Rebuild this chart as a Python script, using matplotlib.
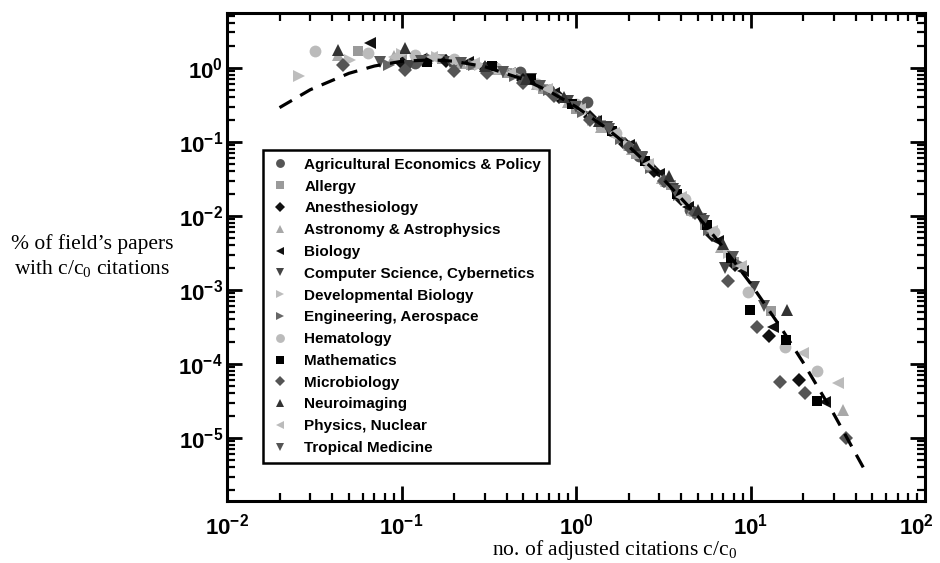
import matplotlib
matplotlib.use("Agg")
import matplotlib.pyplot as plt
import matplotlib.transforms as mtransforms
from matplotlib.ticker import LogLocator, FixedLocator, FixedFormatter, NullFormatter

plt.rcParams['mathtext.fontset'] = 'custom'
plt.rcParams['mathtext.rm'] = 'Liberation Serif'
plt.rcParams['mathtext.it'] = 'Liberation Serif:italic'
plt.rcParams['mathtext.bf'] = 'Liberation Sans:bold'

# ---- data ----
fit_x = [0.02, 0.03, 0.05, 0.07, 0.1, 0.15, 0.2, 0.3, 0.5, 0.7, 1.0, 1.5, 2.0, 3.0,
         5.0, 7.0, 10.0, 15.0, 20.0, 30.0, 45.0]
fit_y = [0.29, 0.506, 0.843, 1.058, 1.224, 1.282, 1.228, 1.036, 0.699, 0.484, 0.298,
         0.152, 0.0874, 0.036, 0.00982, 0.00374, 0.001224, 3.05e-4, 1.054e-4, 2.115e-5, 3.74e-6]

agecon_x = [0.12, 0.2, 0.3, 0.48, 0.7, 1.16, 1.6, 2.3, 3.2, 4.5]
agecon_y = [1.15, 1.2, 1.0, 0.88, 0.5, 0.35, 0.14, 0.065, 0.03, 0.012]

allergy_x = [0.056, 0.1, 0.17, 0.25, 0.4, 0.65, 1.0, 1.4, 2.2, 3.5, 5.5, 8.0, 13.1]
allergy_y = [1.7, 1.5, 1.3, 1.1, 0.85, 0.52, 0.28, 0.17, 0.068, 0.026, 0.0075, 0.0024, 5.2e-4]

anest_x = [0.1, 0.18, 0.3, 0.5, 0.8, 1.2, 1.9, 2.8, 4.0, 6.0, 8.2, 12.7, 19.0]
anest_y = [1.15, 1.25, 1.0, 0.68, 0.4, 0.22, 0.095, 0.04, 0.017, 0.0056, 0.0022, 2.4e-4, 6.0e-5]

astro_x = [0.043, 0.09, 0.14, 0.22, 0.35, 0.6, 0.9, 1.4, 2.1, 3.1, 4.6, 6.8, 33.8]
astro_y = [1.5, 1.45, 1.35, 1.15, 0.95, 0.6, 0.35, 0.16, 0.08, 0.033, 0.012, 0.0038, 2.4e-5]

bio_x = [0.066, 0.13, 0.24, 0.42, 0.75, 1.3, 2.0, 3.0, 4.4, 6.5, 9.0, 13.5, 26.7]
bio_y = [2.18, 1.3, 1.2, 0.85, 0.45, 0.19, 0.09, 0.037, 0.013, 0.0046, 0.0018, 3.2e-4, 3.1e-5]

cs_x = [0.11, 0.19, 0.33, 0.55, 0.9, 1.5, 2.4, 3.6, 5.2, 7.1, 10.5]
cs_y = [1.05, 1.2, 1.0, 0.7, 0.36, 0.16, 0.06, 0.023, 0.009, 0.002, 0.0011]

devbio_x = [0.026, 0.051, 0.1, 0.16, 0.28, 0.45, 0.8, 1.25, 2.0, 3.3, 5.0, 7.5]
devbio_y = [0.78, 1.28, 1.55, 1.4, 1.1, 0.8, 0.42, 0.2, 0.09, 0.03, 0.011, 0.0032]

eng_x = [0.085, 0.15, 0.26, 0.45, 0.7, 1.1, 1.8, 2.7, 3.9, 5.8, 8.5]
eng_y = [1.1, 1.3, 1.1, 0.78, 0.5, 0.25, 0.11, 0.045, 0.019, 0.0065, 0.0023]

hema_x = [0.032, 0.064, 0.12, 0.2, 0.35, 0.6, 1.0, 1.7, 2.6, 4.2, 6.2, 9.7, 15.8, 23.9]
hema_y = [1.7, 1.6, 1.5, 1.3, 0.98, 0.6, 0.32, 0.13, 0.05, 0.017, 0.006, 9.4e-4, 1.7e-4, 8.0e-5]

math_x = [0.14, 0.33, 0.55, 0.95, 1.6, 2.5, 3.8, 5.6, 7.7, 9.95, 15.9, 23.9]
math_y = [1.2, 1.05, 0.7, 0.32, 0.14, 0.055, 0.02, 0.0075, 0.0027, 5.4e-4, 2.1e-4, 3.2e-5]

micro_x = [0.046, 0.105, 0.2, 0.31, 0.5, 0.75, 1.2, 2.0, 3.2, 4.8, 7.4, 10.9, 14.7, 20.5, 35.3]
micro_y = [1.1, 0.92, 0.9, 0.85, 0.62, 0.42, 0.2, 0.085, 0.03, 0.011, 0.0013, 3.2e-4, 5.7e-5, 4.0e-5, 1.0e-5]

neuro_x = [0.043, 0.105, 0.3, 0.52, 0.85, 1.35, 2.2, 3.4, 5.0, 7.0, 16.2]
neuro_y = [1.75, 1.85, 1.05, 0.7, 0.4, 0.19, 0.085, 0.035, 0.012, 0.0042, 5.4e-4]

phys_x = [0.09, 0.15, 0.26, 0.42, 0.68, 1.05, 1.65, 2.6, 4.0, 6.0, 8.8, 20.0, 31.6]
phys_y = [1.4, 1.4, 1.15, 0.85, 0.52, 0.28, 0.13, 0.05, 0.018, 0.0062, 0.0021, 1.4e-4, 5.5e-5]

trop_x = [0.075, 0.13, 0.22, 0.38, 0.62, 1.0, 1.55, 2.4, 3.7, 5.4, 7.9, 12.0]
trop_y = [1.2, 1.25, 1.15, 0.88, 0.56, 0.3, 0.15, 0.062, 0.022, 0.0085, 0.0028, 6e-4]

series = [
    ("Agricultural Economics & Policy", agecon_x, agecon_y, "o", "#555555"),
    ("Allergy", allergy_x, allergy_y, "s", "#9a9a9a"),
    ("Anesthesiology", anest_x, anest_y, "D", "#111111"),
    ("Astronomy & Astrophysics", astro_x, astro_y, "^", "#a8a8a8"),
    ("Biology", bio_x, bio_y, "<", "#111111"),
    ("Computer Science, Cybernetics", cs_x, cs_y, "v", "#444444"),
    ("Developmental Biology", devbio_x, devbio_y, ">", "#bdbdbd"),
    ("Engineering, Aerospace", eng_x, eng_y, ">", "#666666"),
    ("Hematology", hema_x, hema_y, "o", "#bbbbbb"),
    ("Mathematics", math_x, math_y, "s", "#000000"),
    ("Microbiology", micro_x, micro_y, "D", "#555555"),
    ("Neuroimaging", neuro_x, neuro_y, "^", "#333333"),
    ("Physics, Nuclear", phys_x, phys_y, "<", "#bbbbbb"),
    ("Tropical Medicine", trop_x, trop_y, "v", "#555555"),
]

xticks = [1e-2, 1e-1, 1e0, 1e1, 1e2]
xticklabels = [r'$\mathbf{10^{-2}}$', r'$\mathbf{10^{-1}}$', r'$\mathbf{10^{0}}$',
               r'$\mathbf{10^{1}}$', r'$\mathbf{10^{2}}$']
yticks = [1e-5, 1e-4, 1e-3, 1e-2, 1e-1, 1e0]
yticklabels = [r'$\mathbf{10^{-5}}$', r'$\mathbf{10^{-4}}$', r'$\mathbf{10^{-3}}$',
               r'$\mathbf{10^{-2}}$', r'$\mathbf{10^{-1}}$', r'$\mathbf{10^{0}}$']

fig = plt.figure(figsize=(9.4, 5.63), dpi=100)
ax = fig.add_axes([227/940, 62/563, 698/940, 488/563])
ax.set_xscale('log')
ax.set_yscale('log')

for name, xs, ys, mk, col in series:
    ms = 7.0 if mk in ('D', 's') else 8.5
    ax.plot(xs, ys, linestyle='none', marker=mk, color=col, markersize=ms,
            markeredgewidth=0, label=name, zorder=2)

ax.plot(fit_x, fit_y, color='black', linestyle=(0, (4.5, 3)), linewidth=2.3, zorder=3)

ax.set_xlim(1e-2, 1e2)
ax.set_ylim(1.41e-6, 5.5)

ax.xaxis.set_major_locator(FixedLocator(xticks))
ax.xaxis.set_major_formatter(FixedFormatter(xticklabels))
ax.yaxis.set_major_locator(FixedLocator(yticks))
ax.yaxis.set_major_formatter(FixedFormatter(yticklabels))
ax.xaxis.set_minor_locator(LogLocator(base=10, subs=range(2, 10), numticks=50))
ax.yaxis.set_minor_locator(LogLocator(base=10, subs=range(2, 10), numticks=50))
ax.xaxis.set_minor_formatter(NullFormatter())
ax.yaxis.set_minor_formatter(NullFormatter())

ax.tick_params(which='both', direction='in', top=True, right=True, colors='black')
ax.tick_params(which='major', length=11, width=2.0, labelsize=16)
ax.tick_params(axis='x', which='major', pad=8)
ax.tick_params(axis='y', which='major', pad=3)
ax.tick_params(which='minor', length=5.5, width=1.6)
for s in ax.spines.values():
    s.set_linewidth(2.2)

# keep the rightmost x tick label inside the figure
fig.canvas.draw()
last = ax.get_xticklabels()[-1]
last.set_transform(last.get_transform() + mtransforms.ScaledTranslation(-6/72, 0, fig.dpi_scale_trans))

leg = ax.legend(loc='upper left', bbox_to_anchor=(0.0516, 0.719), borderaxespad=0,
                frameon=True, fancybox=False, edgecolor='black', framealpha=1,
                prop={'family': 'Liberation Sans', 'weight': 'bold', 'size': 11.0},
                labelspacing=0.51, handletextpad=1.0, handlelength=1.2,
                borderpad=0.5, markerscale=0.75)
leg.get_frame().set_linewidth(1.8)

fig.text(614/940, 1 - 550/563, r'no. of adjusted citations c/c$_0$', ha='center', va='center',
         family='Liberation Serif', fontsize=15.5)
fig.text(92/940, 1 - 257/563, "% of field\u2019s papers\nwith c/c$_0$ citations", ha='center',
         va='center', multialignment='center', family='Liberation Serif', fontsize=15.5,
         linespacing=1.25)

fig.savefig('out.png', dpi=100)
